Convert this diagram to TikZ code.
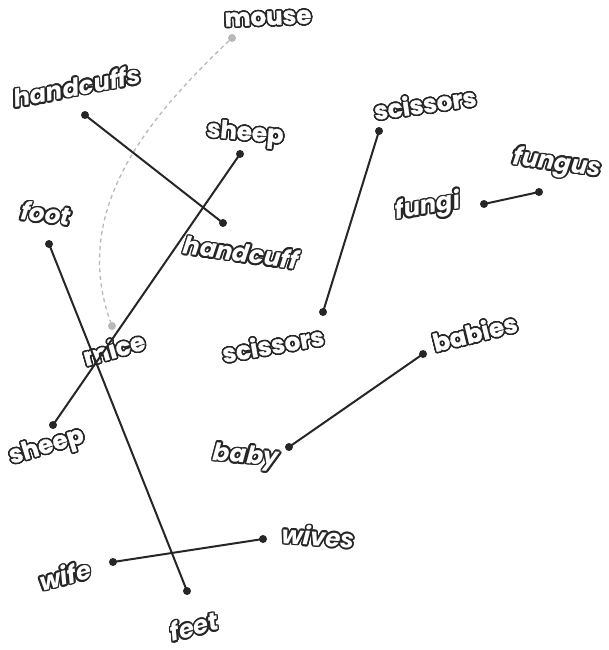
\documentclass[tikz,border=0pt]{standalone}
\usepackage{fontspec}
\setmainfont{Poppins}[BoldFeatures={FakeBold=1.2}]
\usepackage{contour}
\contourlength{1.6pt}
\tikzset{
  dot/.style={circle,fill=black!85,inner sep=0pt,minimum size=8pt},
  greydot/.style={dot,fill=black!28},
  word/.style={text=white,font=\fontsize{24.5}{28}\selectfont\bfseries,inner sep=0pt},
  link/.style={line width=2pt,draw=black!85},
  hint/.style={line width=1.3pt,draw=black!28,dash pattern=on 4pt off 3.5pt},
}
\newcommand{\outl}[1]{\contour{black!85}{#1}}
\newcommand{\outli}[1]{\contour{black!85}{\itshape #1}}

\begin{document}
\begin{tikzpicture}[x=1pt,y=-1pt]
	\useasboundingbox (0,0) rectangle (609,650);
	
	% words
	\node[word,rotate=2] (wmouse) at (268,19) {\outl{mouse}};
	\node[word,rotate=11] (whcs) at (77,87) {\outli{handcuffs}};
	\node[word,rotate=-5] (wsheepa) at (245,135) {\outl{sheep}};
	\node[word,rotate=-7] (wfoot) at (46,214) {\outli{foot}};
	\node[word,rotate=-8] (whc) at (241,253) {\outli{handcuff}};
	\node[word,rotate=8] (wscia) at (425,104) {\outl{scissors}};
	\node[word,rotate=-8] (wfungus) at (557,165) {\outli{fungus}};
	\node[word,rotate=10] (wfungi) at (428,208) {\outli{fungi}};
	\node[word,rotate=10] (wscib) at (273,345) {\outl{scissors}};
	\node[word,rotate=16] (wmice) at (114,349) {\outl{mice}};
	\node[word,rotate=14] (wbabies) at (475,333) {\outl{babies}};
	\node[word,rotate=17] (wsheepb) at (47,448) {\outl{sheep}};
	\node[word,rotate=-5] (wbaby) at (246,458) {\outli{baby}};
	\node[word,rotate=-4] (wwives) at (318,537) {\outli{wives}};
	\node[word,rotate=15] (wwife) at (65,576) {\outli{wife}};
	\node[word,rotate=15] (wfeet) at (194,627) {\outli{feet}};
	
	% dots
	\foreach \n/\x/\y in {hcs/85/115, hc/223/223, sheepa/240/154, sheepb/53/425, foot/49/244, feet/187/591, scia/379/131, scib/323/312, fungi/484/204, fungus/539/192, babies/423/354, baby/289/447, wife/113/562, wives/263/539}
		\node[dot] (\n) at (\x,\y) {};
	\node[greydot] (mouse) at (232,38) {};
	\node[greydot] (mice) at (112,326) {};
	
	% lines
	\draw[hint] (mouse) .. controls (140,125) and (72,215) .. (mice);
	\foreach \a/\b in {hcs/hc, sheepa/sheepb, foot/feet, scia/scib, fungi/fungus, babies/baby, wife/wives}
		\draw[link] (\a.center) -- (\b.center);
	
\end{tikzpicture}
\end{document}
